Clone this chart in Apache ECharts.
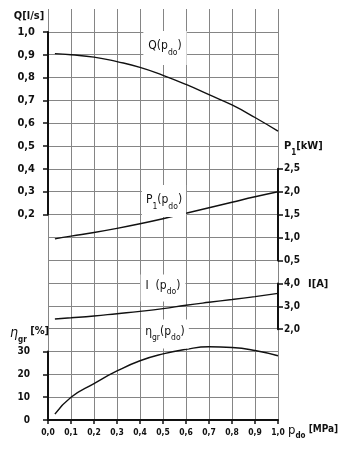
<!DOCTYPE html>
<html><head><meta charset="utf-8">
<script src="https://cdn.jsdelivr.net/npm/echarts@6/dist/echarts.min.js"></script>
<style>html,body{margin:0;padding:0;background:#fff}#c{width:349px;height:450px}</style>
</head><body><div id="c"></div>
<script>
// data
const pressure   = [0.03, 0.1, 0.2, 0.3, 0.4, 0.5, 0.6, 0.7, 0.8, 0.9, 1.0];
const flowQ      = [0.905, 0.90, 0.89, 0.87, 0.845, 0.81, 0.77, 0.725, 0.68, 0.625, 0.565];
const powerP1    = [0.97, 1.03, 1.11, 1.20, 1.30, 1.41, 1.53, 1.65, 1.77, 1.89, 2.00];
const currentI   = [2.45, 2.50, 2.58, 2.68, 2.78, 2.90, 3.05, 3.18, 3.30, 3.43, 3.57];
const efficiency = [2.6, 10, 16, 21.5, 26, 29, 31, 32.1, 31.8, 30.5, 28.2];
// tick labels
const xTicks   = [0, 0.1, 0.2, 0.3, 0.4, 0.5, 0.6, 0.7, 0.8, 0.9, 1.0];
const qTicks   = [0.2, 0.3, 0.4, 0.5, 0.6, 0.7, 0.8, 0.9, 1.0];
const p1Ticks  = [0.5, 1.0, 1.5, 2.0, 2.5];
const iTicks   = [2.0, 3.0, 4.0];
const etaTicks = [0, 10, 20, 30];
const gridRows = 18;

const FONT = '"DejaVu Sans Condensed","DejaVu Sans",sans-serif';
const comma1 = v => Number(v).toFixed(1).replace('.', ',');
const zip = (xs, ys) => xs.map((x, i) => [x, ys[i]]);
const L = 48, R = 349 - 278, B = 450 - 420;

function valAxis(gi, show) {
  return { type: 'value', gridIndex: gi, min: 0, max: 1, show: !!show };
}
function yAx(gi, pos, min, max, ticks, fmt, fs, margin) {
  return {
    type: 'value', gridIndex: gi, position: pos, min: min, max: max,
    axisLine: { show: true, onZero: false, lineStyle: { color: '#111', width: 2 } },
    axisTick: { show: true, length: 5, customValues: ticks, lineStyle: { color: '#111', width: 1.5 } },
    axisLabel: { show: true, customValues: ticks, formatter: fmt, fontSize: fs, fontWeight: 'bold',
                 fontFamily: FONT, color: '#111', margin: margin },
    splitLine: { show: false }
  };
}
const line = (xi, yi, data, clip) => ({
  type: 'line', xAxisIndex: xi, yAxisIndex: yi, data: data, smooth: 0.5,
  showSymbol: false, clip: clip !== false, silent: true,
  lineStyle: { color: '#111', width: 1.4 }
});

const chart = echarts.init(document.getElementById('c'), null, { renderer: 'canvas' });
const gridBase = { left: L, right: R, outerBoundsMode: 'none', containLabel: false };
const subRich = {
  b: { fontSize: 12, fontFamily: FONT, fill: '#111', color: '#111', lineHeight: 17, verticalAlign: 'top' },
  s: { fontSize: 8.5, fontFamily: FONT, fill: '#111', color: '#111', lineHeight: 9, verticalAlign: 'bottom' }
};
function txt(x, y, text, opt) {
  return Object.assign({
    type: 'text', x: x, y: y, z: 50,
    style: Object.assign({ text: text, fill: '#111', font: '11px ' + FONT,
      textAlign: 'center', textVerticalAlign: 'middle', rich: subRich }, opt || {})
  });
}
chart.setOption({
  animation: false,
  backgroundColor: '#fff',
  grid: [
    Object.assign({ top: 9, bottom: B }, gridBase),
    Object.assign({ top: 32, bottom: 450 - 214.4 }, gridBase),
    Object.assign({ top: 168.8, bottom: 450 - 260.4 }, gridBase),
    Object.assign({ top: 283.6, bottom: 450 - 329.2 }, gridBase),
    Object.assign({ top: 351.6, bottom: B }, gridBase)
  ],
  xAxis: [
    {
      type: 'value', gridIndex: 0, min: 0, max: 1, interval: 0.1,
      axisLine: { show: true, lineStyle: { color: '#111', width: 2 } },
      axisTick: { show: true, length: 4, customValues: xTicks, lineStyle: { color: '#111', width: 1.5 } },
      axisLabel: { customValues: xTicks, formatter: comma1, fontSize: 8.5, fontWeight: 'bold',
                   fontFamily: FONT, color: '#111', margin: 8 },
      splitLine: { show: true, showMinLine: true, showMaxLine: true, lineStyle: { color: '#858585', width: 1 } }
    },
    valAxis(1), valAxis(2), valAxis(3), valAxis(4)
  ],
  yAxis: [
    {
      type: 'value', gridIndex: 0, min: 0, max: gridRows, interval: 1,
      axisLine: { show: false }, axisTick: { show: false }, axisLabel: { show: false },
      splitLine: { show: true, showMaxLine: false, lineStyle: { color: '#858585', width: 1 } }
    },
    yAx(1, 'left', 0.2, 1.0, qTicks, comma1, 11, 13),
    yAx(2, 'right', 0.5, 2.5, p1Ticks, comma1, 10, 6),
    yAx(3, 'right', 2.0, 4.0, iTicks, comma1, 10, 6),
    yAx(4, 'left', 0, 30, etaTicks, v => String(v), 10, 18)
  ],
  series: [
    line(1, 1, zip(pressure, flowQ)),
    line(2, 2, zip(pressure, powerP1)),
    line(3, 3, zip(pressure, currentI)),
    line(4, 4, zip(pressure, efficiency), false)
  ],
  graphic: [
    // curve labels (white boxes over the grid)
    txt(165, 48, '{b|Q(p}{s|do}{b|)}', { backgroundColor: '#fff', padding: [9, 5, 8, 5] }),
    txt(164, 201, '{b|P}{s|1}{b|(p}{s|do}{b|)}', { backgroundColor: '#fff', padding: [9, 4, 6, 4] }),
    txt(163, 288, '{b|I  (p}{s|do}{b|)}', { backgroundColor: '#fff', padding: [5, 5, 5, 5] }),
    txt(165, 334, '{b|\u03b7}{s|gr}{b|(p}{s|do}{b|)}', { backgroundColor: '#fff', padding: [6, 4, 6, 4] }),
    // axis titles
    txt(29, 16, '{t|Q[l/s]}', { rich: { t: { fontSize: 11, fontWeight: 'bold', fontFamily: FONT, fill: '#111' } } }),
    txt(284, 149, '{t|P}{u|1}{t|[kW]}', { textAlign: 'left', rich: {
      t: { fontSize: 11, fontWeight: 'bold', fontFamily: FONT, fill: '#111', lineHeight: 16, verticalAlign: 'top' },
      u: { fontSize: 8, fontWeight: 'bold', fontFamily: FONT, fill: '#111', lineHeight: 9, verticalAlign: 'bottom' } } }),
    txt(308, 284, '{t|I[A]}', { textAlign: 'left', rich: { t: { fontSize: 11, fontWeight: 'bold', fontFamily: FONT, fill: '#111' } } }),
    txt(10, 335, '{e|\u03b7}{u|gr}{t| [%]}', { textAlign: 'left', rich: {
      e: { fontSize: 14, fontStyle: 'italic', fontFamily: FONT, fill: '#111', lineHeight: 18, verticalAlign: 'top' },
      t: { fontSize: 11, fontWeight: 'bold', fontFamily: FONT, fill: '#111', lineHeight: 18, verticalAlign: 'top' },
      u: { fontSize: 8, fontWeight: 'bold', fontFamily: FONT, fill: '#111', lineHeight: 10, verticalAlign: 'bottom' } } }),
    txt(288, 432, '{p|p}{u|do}{t| [MPa]}', { textAlign: 'left', rich: {
      p: { fontSize: 13, fontFamily: FONT, fill: '#111', lineHeight: 16, verticalAlign: 'top' },
      t: { fontSize: 10, fontWeight: 'bold', fontFamily: FONT, fill: '#111', lineHeight: 14, verticalAlign: 'top' },
      u: { fontSize: 8, fontWeight: 'bold', fontFamily: FONT, fill: '#111', lineHeight: 9, verticalAlign: 'bottom' } } })
  ]
});
</script></body></html>
